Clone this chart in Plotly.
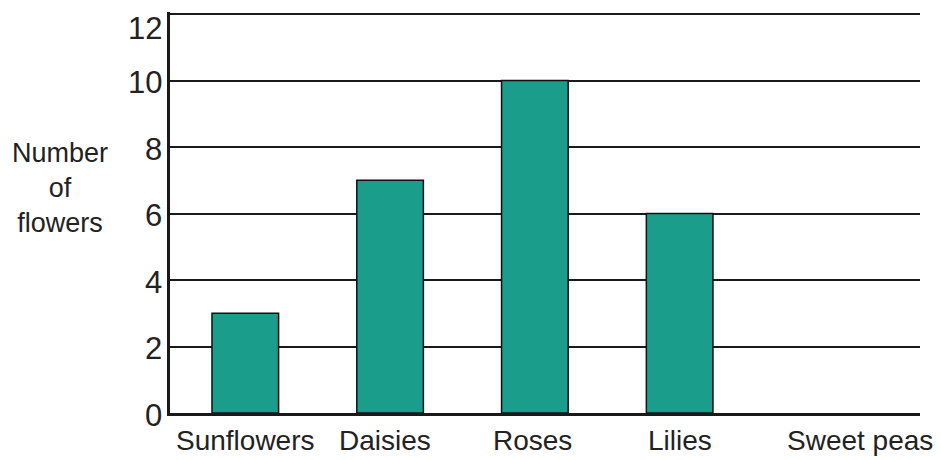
import plotly.graph_objects as go

categories = ["Sunflowers", "Daisies", "Roses", "Lilies", "Sweet peas"]
values = [3, 7, 10, 6, 0]
y_ticks = [0, 2, 4, 6, 8, 10, 12]

bar_color = "#1a9e8b"
font_family = "Liberation Sans, Arial, sans-serif"
text_color = "#222222"

fig = go.Figure()
fig.add_trace(go.Bar(
    x=categories, y=values, width=0.46,
    marker=dict(color=bar_color,
                line=dict(color="#111111", width=[1.5 if v > 0 else 0 for v in values])),
    showlegend=False, hoverinfo="x+y",
))

# category labels (per-label horizontal nudges to match reference layout)
label_shift = [0, -5, -2, 0, 36]
for cat, dx in zip(categories, label_shift):
    fig.add_annotation(x=cat, y=0, xref="x", yref="y", yanchor="top", yshift=-10,
                       xshift=dx, text=cat, showarrow=False,
                       font=dict(family=font_family, size=28, color=text_color))

# value-axis labels (top one kept inside the page)
top_tick = max(y_ticks)
for t in y_ticks:
    at_top = t == top_tick
    fig.add_annotation(x=0, xref="paper", xanchor="right", xshift=-6,
                       y=t, yref="y", yanchor="top" if at_top else "middle",
                       yshift=5 if at_top else -2,
                       text=str(t), showarrow=False,
                       font=dict(family=font_family, size=31, color=text_color))

fig.add_annotation(x=0, xref="paper", xanchor="center", xshift=-110,
                   y=7, yref="y", yanchor="middle", yshift=-8,
                   text="Number<br>of<br>flowers", showarrow=False,
                   font=dict(family=font_family, size=27, color=text_color))

# page body has an 8px margin, so size/margins compensate for it
fig.update_layout(
    width=933, height=452,
    margin=dict(l=162, r=21, t=4, b=47),
    paper_bgcolor="white", plot_bgcolor="white",
    bargap=0.5,
    xaxis=dict(range=[-0.52, 4.66], showticklabels=False, showgrid=False,
               showline=True, linecolor="#1a1a1a", linewidth=2.5, zeroline=False,
               ticks=""),
    yaxis=dict(range=[0, 12.06], tickvals=y_ticks, showticklabels=False,
               showgrid=True, gridcolor="#1a1a1a",
               gridwidth=2.2, zeroline=False, showline=True, linecolor="#1a1a1a",
               linewidth=2.5, ticks=""),
)

fig.write_html("out.html")
